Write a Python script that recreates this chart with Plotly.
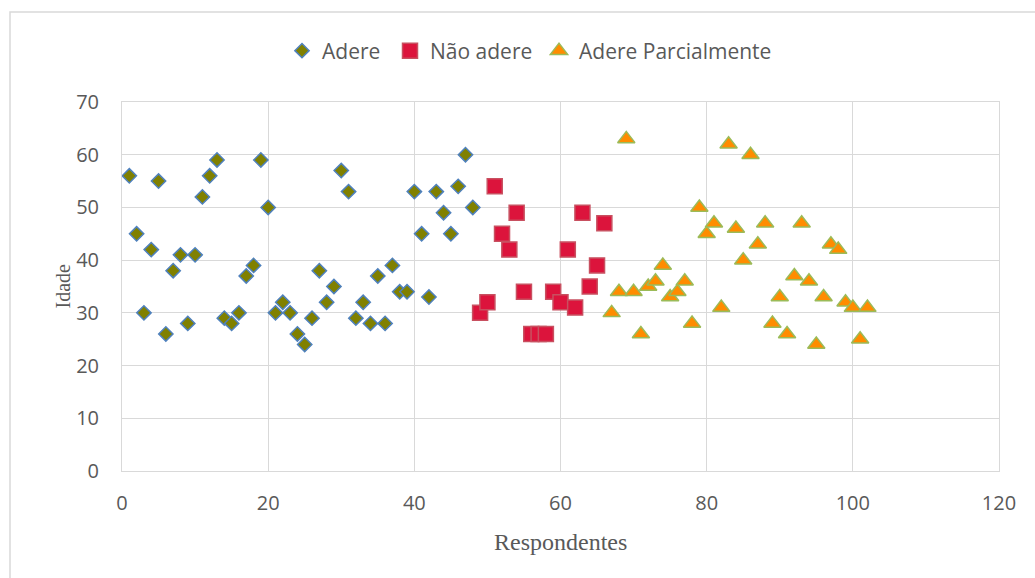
import plotly.graph_objects as go

# Respondent number and age for each adherence group
adere_resp = [1, 2, 3, 4, 5, 6, 7, 8, 9, 10, 11, 12, 13, 14, 15, 16, 17, 18, 19, 20,
              21, 22, 23, 24, 25, 26, 27, 28, 29, 30, 31, 32, 33, 34, 35, 36, 37, 38,
              39, 40, 41, 42, 43, 44, 45, 46, 47, 48]
adere_idade = [56, 45, 30, 42, 55, 26, 38, 41, 28, 41, 52, 56, 59, 29, 28, 30, 37, 39, 59, 50,
               30, 32, 30, 26, 24, 29, 38, 32, 35, 57, 53, 29, 32, 28, 37, 28, 39, 34,
               34, 53, 45, 33, 53, 49, 45, 54, 60, 50]

nao_adere_resp = [49, 50, 51, 52, 53, 54, 55, 56, 57, 58, 59, 60, 61, 62, 63, 64, 65, 66]
nao_adere_idade = [30, 32, 54, 45, 42, 49, 34, 26, 26, 26, 34, 32, 42, 31, 49, 35, 39, 47]

parcial_resp = [67, 68, 69, 70, 71, 72, 73, 74, 75, 76, 77, 78, 79, 80, 81, 82, 83, 84,
                85, 86, 87, 88, 89, 90, 91, 92, 93, 94, 95, 96, 97, 98, 99, 100, 101, 102]
parcial_idade = [30, 34, 63, 34, 26, 35, 36, 39, 33, 34, 36, 28, 50, 45, 47, 31, 62, 46,
                 40, 60, 43, 47, 28, 33, 26, 37, 47, 36, 24, 33, 43, 42, 32, 31, 25, 31]

x_ticks = [0, 20, 40, 60, 80, 100, 120]
y_ticks = [0, 10, 20, 30, 40, 50, 60, 70]

W, H = 1035, 578
ML, MR, MT, MB = 122, 36, 102, 107
PW, PH = W - ML - MR, H - MT - MB

GRID = "#d9d9d9"
TXT = "#595959"
SANS = "Open Sans"
SERIF = "Liberation Serif, Times New Roman, serif"


def px_x(p):
    return (p - ML) / PW


def px_y(p):
    return (H - MB - p) / PH


fig = go.Figure()
fig.add_trace(go.Scatter(
    x=adere_resp, y=adere_idade, mode="markers", name="Adere", legend="legend",
    marker=dict(symbol="diamond", size=11, color="#808000",
                line=dict(color="#4f81bd", width=1.5)),
))
fig.add_trace(go.Scatter(
    x=nao_adere_resp, y=nao_adere_idade, mode="markers", name="Não adere", legend="legend2",
    marker=dict(symbol="square", size=15, color="#dc143c",
                line=dict(color="#c85060", width=1.5)),
))
fig.add_trace(go.Scatter(
    x=parcial_resp, y=parcial_idade, mode="markers", name="Adere Parcialmente", legend="legend3",
    marker=dict(symbol="triangle-up", size=15, color="#ff8c00",
                line=dict(color="#9bbb59", width=1.5)),
))

# chart frame (light border around the whole chart)
fig.add_shape(type="rect", xref="paper", yref="paper",
              x0=px_x(10), x1=px_x(W + 20), y0=px_y(H + 20), y1=px_y(12),
              line=dict(color=GRID, width=1.5), fillcolor="rgba(0,0,0,0)", layer="below")

fig.add_annotation(text="Idade", xref="paper", yref="paper",
                   x=px_x(62), y=0.5, xanchor="center", yanchor="middle",
                   textangle=-90, showarrow=False,
                   font=dict(family=SERIF, size=20, color=TXT))
fig.add_annotation(text="Respondentes", xref="paper", yref="paper",
                   x=0.5, y=px_y(542), xanchor="center", yanchor="middle", showarrow=False,
                   font=dict(family=SERIF, size=24, color=TXT))

leg_common = dict(orientation="h", xanchor="left", yanchor="middle", y=px_y(51),
                  font=dict(family=SANS, size=21, color=TXT),
                  bgcolor="rgba(0,0,0,0)", itemwidth=30)

fig.update_layout(
    width=W, height=H,
    margin=dict(l=ML, r=MR, t=MT, b=MB, autoexpand=False),
    paper_bgcolor="white", plot_bgcolor="white",
    font=dict(family=SANS, size=20, color=TXT),
    showlegend=True,
    legend=dict(x=px_x(322 - 40), **leg_common),
    legend2=dict(x=px_x(430 - 40), **leg_common),
    legend3=dict(x=px_x(579 - 40), **leg_common),
)
fig.update_xaxes(range=[0, 120], tickvals=x_ticks, showgrid=True, gridcolor=GRID,
                 gridwidth=1, zeroline=False, showline=True, linecolor=GRID,
                 linewidth=1, mirror=True, ticks="", ticklabelstandoff=14,
                 tickfont=dict(family=SANS, size=20, color=TXT), fixedrange=True)
fig.update_yaxes(range=[0, 70], tickvals=y_ticks, showgrid=True, gridcolor=GRID,
                 gridwidth=1, zeroline=False, showline=True, linecolor=GRID,
                 linewidth=1, mirror=True, ticks="", ticklabelstandoff=18,
                 tickfont=dict(family=SANS, size=20, color=TXT), fixedrange=True)

fig.write_html("out.html")
